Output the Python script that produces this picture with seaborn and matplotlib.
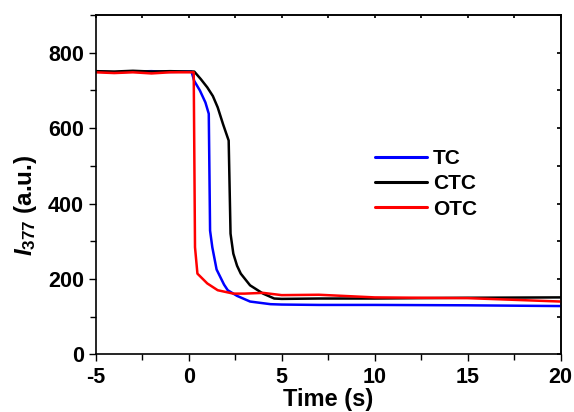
import numpy as np
import pandas as pd
import matplotlib
matplotlib.use("Agg")
import matplotlib.pyplot as plt
import seaborn as sns
from matplotlib.ticker import MultipleLocator

# ---- data ----
tc_t = [-5, -4, -3, -2, -1, 0, 0.15, 0.3, 0.6, 0.9, 1.08, 1.15, 1.27, 1.5, 1.9, 2.1, 2.6, 3.3, 4.4, 5, 7, 10, 15, 20]
tc_y = [750, 748, 750, 751, 749, 750, 750, 725, 700, 668, 638, 328, 284, 225, 185, 170, 155, 140, 133, 132, 131, 131, 130, 128]

ctc_t = [-5, -4, -3, -2, -1, 0, 0.3, 0.65, 1.0, 1.3, 1.56, 1.85, 2.15, 2.25, 2.4, 2.6, 2.8, 3.3, 4.0, 4.6, 5, 7, 10, 15, 20]
ctc_y = [751, 750, 752, 750, 751, 750, 750, 730, 708, 685, 655, 610, 567, 320, 267, 235, 214, 183, 161, 148, 147, 148, 148, 150, 151]

otc_t = [-5, -4, -3, -2, -1, 0, 0.27, 0.34, 0.47, 1.0, 1.56, 2.4, 3.0, 4.0, 5, 7, 10, 15, 20]
otc_y = [748, 746, 748, 745, 748, 748, 748, 284, 214, 188, 170, 161, 161, 163, 157, 158, 151, 149, 140]

series_names = ["TC", "CTC", "OTC"]
colors = ["#0000ff", "#000000", "#ff0000"]
x_ticks = [-5, 0, 5, 10, 15, 20]
y_ticks = [0, 200, 400, 600, 800]

df = pd.concat([
    pd.DataFrame({"t": tc_t, "I": tc_y, "s": "TC"}),
    pd.DataFrame({"t": ctc_t, "I": ctc_y, "s": "CTC"}),
    pd.DataFrame({"t": otc_t, "I": otc_y, "s": "OTC"}),
])

sns.set_theme(style="ticks")
plt.rcParams["font.family"] = ["Liberation Sans", "DejaVu Sans"]
plt.rcParams["font.weight"] = "bold"
plt.rcParams["text.color"] = "black"
plt.rcParams["axes.labelcolor"] = "black"
plt.rcParams["xtick.color"] = "black"
plt.rcParams["ytick.color"] = "black"
plt.rcParams["axes.unicode_minus"] = False
plt.rcParams["mathtext.fontset"] = "custom"
plt.rcParams["mathtext.it"] = "Liberation Sans:italic:bold"
plt.rcParams["mathtext.rm"] = "Liberation Sans:bold"

fig = plt.figure(figsize=(5.74, 4.12), dpi=100)
ax = fig.add_axes([0.1667, 0.140, 0.8101, 0.8236])

sns.lineplot(data=df, x="t", y="I", hue="s", hue_order=series_names,
             palette=colors, linewidth=1.8, sort=False, estimator=None, ax=ax)

ax.set_xlim(-5, 20)
ax.set_ylim(0, 900)
ax.set_xticks(x_ticks)
ax.set_yticks(y_ticks)
ax.xaxis.set_minor_locator(MultipleLocator(2.5))
ax.yaxis.set_minor_locator(MultipleLocator(100))
ax.tick_params(which="both", direction="out", width=1.0, color="black")
ax.tick_params(which="major", length=5)
ax.tick_params(which="minor", length=4)
ax.tick_params(axis="x", pad=4)
for lab in ax.get_xticklabels() + ax.get_yticklabels():
    lab.set_fontweight("bold")
    lab.set_fontsize(15.5)
for sp in ax.spines.values():
    sp.set_linewidth(1.2)
    sp.set_color("black")

# inward ticks on the top/right spines
axr = ax.secondary_yaxis("right")
axr.set_yticks(np.arange(0, 901, 100))
axr.tick_params(which="both", direction="in", length=3, labelright=False, color="black")
axt = ax.secondary_xaxis("top")
axt.set_xticks(np.arange(-5, 20.1, 2.5))
axt.tick_params(which="both", direction="in", length=2, labeltop=False, color="black")

ax.set_xlabel("Time (s)", fontsize=17, fontweight="bold", labelpad=0)
ax.set_ylabel(r"$I_{377}$ (a.u.)", fontsize=17.5, fontweight="bold")
ax.yaxis.set_label_coords(-0.122, 0.44)

leg = ax.legend(loc="upper left", bbox_to_anchor=(0.56, 0.66), frameon=False,
                handlelength=2.5, handletextpad=0.3, labelspacing=0.3,
                prop={"weight": "bold", "size": 15})
for line in leg.get_lines():
    line.set_linewidth(2.2)

fig.savefig("out.png", dpi=100)
